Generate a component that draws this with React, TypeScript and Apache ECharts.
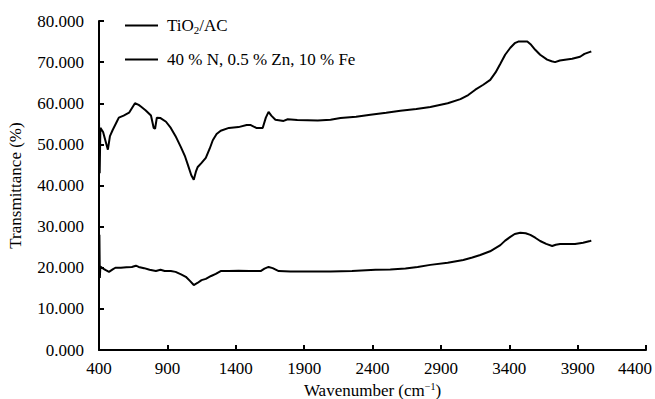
import React, { useEffect, useRef } from "react";
import * as echarts from "echarts";

const seriesNames = ["TiO2/AC", "40 % N, 0.5 % Zn, 10 % Fe"];

// [wavenumber, transmittance]
const topCurve: [number, number][] = [
  [400, 56], [405, 43], [410, 54], [430, 53], [450, 50.5], [465, 48.7], [480, 52],
  [500, 53.5], [530, 55.5], [545, 56.5], [580, 57], [620, 57.7], [663, 60], [690, 59.6],
  [706, 59.2], [740, 58.3], [780, 57], [800, 54], [810, 53.8], [823, 56.5], [850, 56.4],
  [890, 55.5], [925, 54], [960, 52], [998, 49.4], [1030, 47], [1050, 45], [1075, 42.5],
  [1093, 41.4], [1110, 43.5], [1122, 44.5], [1150, 45.5], [1181, 46.7], [1210, 49],
  [1232, 51], [1260, 52.5], [1290, 53.3], [1350, 54], [1420, 54.2], [1480, 54.7],
  [1510, 54.7], [1550, 54], [1597, 54], [1620, 56.5], [1640, 57.9], [1660, 57],
  [1690, 56], [1750, 55.7], [1780, 56.1], [1850, 55.9], [2000, 55.8], [2093, 56],
  [2166, 56.4], [2280, 56.7], [2385, 57.2], [2500, 57.7], [2604, 58.2], [2720, 58.6],
  [2823, 59.1], [2950, 60], [3043, 61], [3100, 62], [3152, 63.3], [3210, 64.5],
  [3261, 65.7], [3300, 67.5], [3335, 69.6], [3370, 71.8], [3408, 73.5], [3440, 74.6],
  [3466, 75], [3500, 75], [3532, 75], [3560, 74.2], [3590, 73], [3626, 71.8],
  [3677, 70.6], [3710, 70.2], [3735, 70], [3770, 70.4], [3808, 70.6], [3860, 70.8],
  [3918, 71.3], [3950, 72], [3991, 72.5], [4000, 72.6],
];

const bottomCurve: [number, number][] = [
  [400, 20.3], [403, 28], [406, 17.5], [410, 20.3], [430, 19.8], [450, 19.4],
  [473, 19], [500, 19.6], [520, 20], [560, 20], [600, 20.1], [640, 20.2], [670, 20.5],
  [690, 20.2], [730, 19.9], [770, 19.5], [816, 19.2], [850, 19.5], [880, 19.2],
  [925, 19.2], [960, 19], [1000, 18.4], [1035, 17.8], [1065, 16.8], [1093, 15.8],
  [1120, 16.3], [1150, 17], [1181, 17.3], [1220, 18], [1254, 18.5], [1290, 19.2],
  [1350, 19.2], [1420, 19.3], [1500, 19.2], [1582, 19.2], [1610, 19.8], [1640, 20.2],
  [1670, 19.9], [1714, 19.2], [1800, 19.1], [1900, 19.1], [2093, 19.1], [2250, 19.2],
  [2422, 19.5], [2530, 19.6], [2641, 19.8], [2730, 20.2], [2823, 20.7], [2950, 21.2],
  [3064, 21.9], [3130, 22.5], [3188, 23.1], [3260, 24], [3335, 25.5], [3370, 26.6],
  [3408, 27.5], [3440, 28.2], [3481, 28.5], [3520, 28.4], [3554, 28], [3590, 27.3],
  [3626, 26.5], [3670, 25.8], [3714, 25.3], [3740, 25.6], [3772, 25.8], [3830, 25.8],
  [3881, 25.8], [3940, 26.1], [3991, 26.5], [4000, 26.6],
];

const xTicks = { min: 400, max: 4400, interval: 500 };
const yTicks = { min: 0, max: 80, interval: 10 };

const FONT = "Liberation Serif";

export default function App() {
  const ref = useRef<HTMLDivElement>(null);
  useEffect(() => {
    if (!ref.current) return;
    const chart = echarts.init(ref.current, null, { renderer: "svg" });
    chart.setOption({
      animation: false,
      backgroundColor: "#ffffff",
      textStyle: { fontFamily: FONT, color: "#000" },
      grid: { left: 99, right: 9, top: 21, bottom: 49, containLabel: false, outerBoundsMode: "none" },
      legend: {
        orient: "vertical",
        left: 120,
        top: 12,
        itemGap: 16,
        itemWidth: 33,
        itemHeight: 2,
        icon: "rect",
        data: seriesNames,
        textStyle: {
          fontFamily: FONT,
          fontSize: 17,
          color: "#000",
          padding: [0, 0, 0, 4],
          rich: {
            a: { fontFamily: FONT, fontSize: 17, color: "#000" },
            sub: { fontFamily: FONT, fontSize: 11, color: "#000", verticalAlign: "bottom", padding: [8, 0, 0, 0] },
          },
        },
        formatter: (name: string) =>
          name === "TiO2/AC" ? "{a|TiO}{sub|2}{a|/AC}" : "{a|" + name + "}",
      },
      xAxis: {
        type: "value",
        min: xTicks.min,
        max: xTicks.max,
        interval: xTicks.interval,
        name: "{a|Wavenumber (cm}{sup|−1}{a|)}",
        nameLocation: "middle",
        nameGap: 28,
        nameTextStyle: {
          fontFamily: FONT,
          fontSize: 17,
          color: "#000",
          lineHeight: 17,
          rich: {
            a: { fontFamily: FONT, fontSize: 17, color: "#000", lineHeight: 17 },
            sup: { fontFamily: FONT, fontSize: 10, color: "#000", verticalAlign: "top", lineHeight: 10, padding: [0, 0, 6, 0] },
          },
        },
        axisLine: { show: true, onZero: false, lineStyle: { color: "#000", width: 2 } },
        axisTick: { show: true, inside: true, length: 5, lineStyle: { color: "#000", width: 2 } },
        axisLabel: {
          fontFamily: FONT,
          fontSize: 17,
          color: "#000",
          margin: 10,
          formatter: (v: number) => (v === xTicks.max ? "{r|" + v + "}" : String(v)),
          rich: { r: { fontFamily: FONT, fontSize: 17, color: "#000", padding: [0, 22, 0, 0] } },
        },
        splitLine: { show: false },
      },
      yAxis: {
        type: "value",
        min: yTicks.min,
        max: yTicks.max,
        interval: yTicks.interval,
        name: "Transmittance (%)",
        nameLocation: "middle",
        nameGap: 75,
        nameRotate: 90,
        nameTextStyle: { fontFamily: FONT, fontSize: 17, color: "#000" },
        axisLine: { show: true, lineStyle: { color: "#000", width: 2 } },
        axisTick: { show: true, inside: true, length: 5, lineStyle: { color: "#000", width: 2 } },
        axisLabel: {
          fontFamily: FONT,
          fontSize: 17,
          color: "#000",
          margin: 15,
          formatter: (v: number) => v.toFixed(3),
        },
        splitLine: { show: false },
      },
      series: [
        {
          name: seriesNames[0],
          type: "line",
          data: topCurve,
          symbol: "none",
          lineStyle: { color: "#000", width: 2 },
          itemStyle: { color: "#000" },
        },
        {
          name: seriesNames[1],
          type: "line",
          data: bottomCurve,
          symbol: "none",
          lineStyle: { color: "#000", width: 2 },
          itemStyle: { color: "#000" },
        },
      ],
    });
    return () => chart.dispose();
  }, []);
  return <div ref={ref} style={{ width: 655, height: 399, position: "absolute", left: 0, top: 0 }} />;
}
